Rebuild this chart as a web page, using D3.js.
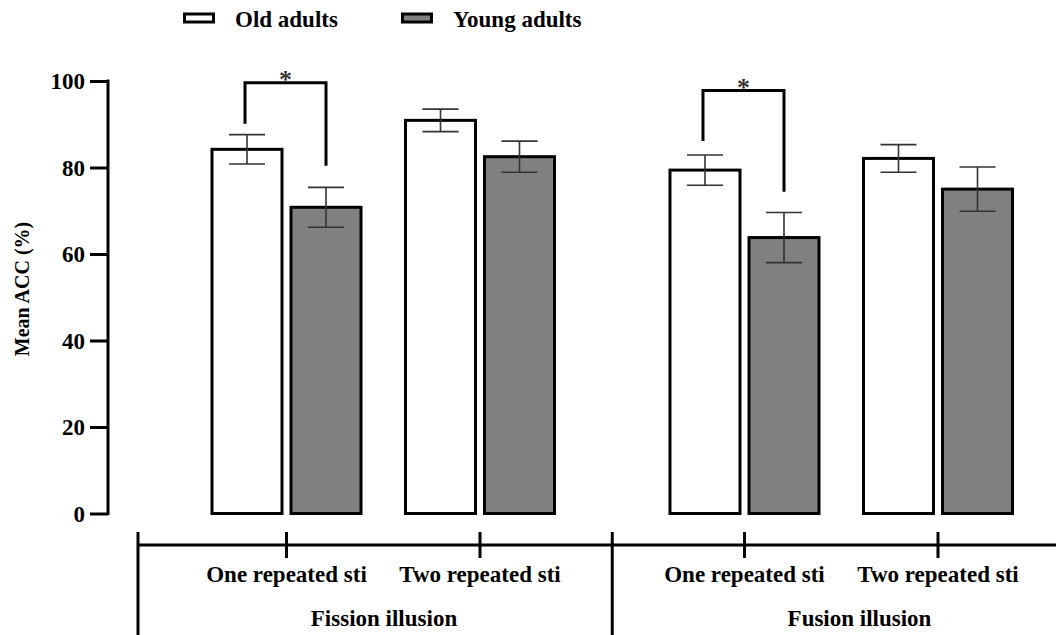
<!DOCTYPE html>
<html>
<head>
<meta charset="utf-8">
<script src="https://cdn.jsdelivr.net/npm/d3@7"></script>
<style>
  html, body { margin: 0; padding: 0; background: #fff; }
  svg { display: block; }
  text { font-family: "Liberation Serif", "Times New Roman", serif; font-weight: bold; fill: #000; }
</style>
</head>
<body>
<svg id="chart" width="1056" height="635"></svg>
<script>
// ---------- data ----------
const groups = ["Fission illusion", "Fusion illusion"];
const conditions = ["One repeated sti", "Two repeated sti"];
const series = ["Old adults", "Young adults"];
const seriesColors = ["#ffffff", "#808080"];
// mean ACC (%) per group x condition, for each series
const oldMeans   = [84.2, 90.9, 79.4, 82.1];
const oldErr     = [3.4, 2.6, 3.5, 3.2];
const youngMeans = [70.8, 82.5, 63.8, 75.0];
const youngErr   = [4.6, 3.6, 5.8, 5.1];
const yTicks = [0, 20, 40, 60, 80, 100];
// significance brackets (group, condition, top level, left leg end, right leg end)
const sigGroups = ["Fission illusion", "Fusion illusion"];
const sigConds = ["One repeated sti", "One repeated sti"];
const sigTop = [99.6, 97.8];
const sigLeftEnd = [90.1, 86.1];
const sigRightEnd = [80.4, 74.4];
const sigLabel = ["*", "*"];

// build records
const records = [];
groups.forEach((g, gi) => conditions.forEach((c, ci) => {
  const k = gi * conditions.length + ci;
  records.push({ group: g, cond: c, series: series[0], mean: oldMeans[k], err: oldErr[k] });
  records.push({ group: g, cond: c, series: series[1], mean: youngMeans[k], err: youngErr[k] });
}));

// ---------- scales ----------
const svg = d3.select("#chart");
const y = d3.scaleLinear().domain([0, 100]).range([513.5, 81]);
const xGroup = d3.scaleBand().domain(groups).range([189.75, 1034.75]).paddingInner(0.155).paddingOuter(0);
const xCond = d3.scaleBand().domain(conditions).range([0, xGroup.bandwidth()]).padding(0);
const xSeries = d3.scaleBand().domain(series).range([0, xCond.bandwidth()]).paddingInner(0.114).paddingOuter(0.2816);
const color = d3.scaleOrdinal().domain(series).range(seriesColors);

const barX = d => xGroup(d.group) + xCond(d.cond) + xSeries(d.series);
const barC = d => barX(d) + xSeries.bandwidth() / 2;
const condC = (g, c) => xGroup(g) + xCond(c) + xCond.bandwidth() / 2;

// ---------- y axis ----------
const yAxis = svg.append("g").attr("transform", "translate(108,0)")
  .call(d3.axisLeft(y).tickValues(yTicks).tickSize(18).tickSizeOuter(0).tickPadding(5));
yAxis.select(".domain").attr("stroke", "#000").attr("stroke-width", 3)
  .attr("d", `M0,${y(0) + 1.5}V${y(100) - 1.5}`);
yAxis.selectAll(".tick line").attr("stroke", "#000").attr("stroke-width", 3);
yAxis.selectAll(".tick text").attr("font-size", 23).attr("font-family", "Liberation Serif")
  .attr("font-weight", "bold").attr("fill", "#000").attr("dy", "0.34em");

svg.append("text").attr("transform", `translate(29,289) rotate(-90)`)
  .attr("text-anchor", "middle").attr("font-size", 20).text("Mean ACC (%)");

// ---------- bars ----------
svg.append("g").selectAll("rect").data(records).join("rect")
  .attr("x", d => barX(d))
  .attr("y", d => y(d.mean))
  .attr("width", xSeries.bandwidth())
  .attr("height", d => y(0) - y(d.mean))
  .attr("fill", d => color(d.series))
  .attr("stroke", "#000").attr("stroke-width", 3);

// ---------- error bars ----------
const capW = 36;
const eb = svg.append("g").attr("stroke", "#333").attr("stroke-width", 1.6).attr("fill", "none");
records.forEach(d => {
  const cx = barC(d), t = y(d.mean + d.err), b = y(d.mean - d.err);
  eb.append("line").attr("x1", cx).attr("x2", cx).attr("y1", t).attr("y2", b);
  eb.append("line").attr("x1", cx - capW / 2).attr("x2", cx + capW / 2).attr("y1", t).attr("y2", t);
  eb.append("line").attr("x1", cx - capW / 2).attr("x2", cx + capW / 2).attr("y1", b).attr("y2", b);
});

// ---------- significance brackets ----------
sigGroups.forEach((g, i) => {
  const xl = xGroup(g) + xCond(sigConds[i]) + xSeries(series[0]) + xSeries.bandwidth() / 2 - 2;
  const xr = xGroup(g) + xCond(sigConds[i]) + xSeries(series[1]) + xSeries.bandwidth() / 2;
  svg.append("path")
    .attr("d", `M${xl},${y(sigLeftEnd[i])}V${y(sigTop[i])}H${xr}V${y(sigRightEnd[i])}`)
    .attr("fill", "none").attr("stroke", "#000").attr("stroke-width", 3);
  svg.append("text").attr("x", (xl + xr) / 2).attr("y", y(sigTop[i]) + 5)
    .attr("text-anchor", "middle").attr("font-size", 26).attr("font-weight", "normal")
    .style("fill", "#333").text(sigLabel[i]);
});

// ---------- nested x axis ----------
const axY = 545;
const xa = svg.append("g").attr("stroke", "#000").attr("stroke-width", 3);
xa.append("line").attr("x1", 138).attr("x2", 1056).attr("y1", axY).attr("y2", axY);
// group separators
const sepX = [138, (xGroup(groups[0]) + xGroup.bandwidth() + xGroup(groups[1])) / 2];
sepX.forEach(sx => xa.append("line").attr("x1", sx).attr("x2", sx).attr("y1", 532).attr("y2", 635));
// condition ticks and labels
groups.forEach(g => conditions.forEach(c => {
  const cx = condC(g, c);
  xa.append("line").attr("x1", cx).attr("x2", cx).attr("y1", 532).attr("y2", 558);
  svg.append("text").attr("x", cx).attr("y", 582).attr("text-anchor", "middle")
    .attr("font-size", 23).text(c);
}));
// group labels
const groupLabelX = [384, 859.5];
groups.forEach((g, i) => {
  svg.append("text").attr("x", groupLabelX[i]).attr("y", 626).attr("text-anchor", "middle")
    .attr("font-size", 23).text(g);
});

// ---------- legend ----------
const legX = [183, 401];
series.forEach((s, i) => {
  svg.append("rect").attr("x", legX[i] + 1.5).attr("y", 14).attr("width", 29).attr("height", 8)
    .attr("fill", color(s)).attr("stroke", "#000").attr("stroke-width", 3);
  svg.append("text").attr("x", legX[i] + 52).attr("y", 27).attr("font-size", 23).text(s);
});
</script>
</body>
</html>
